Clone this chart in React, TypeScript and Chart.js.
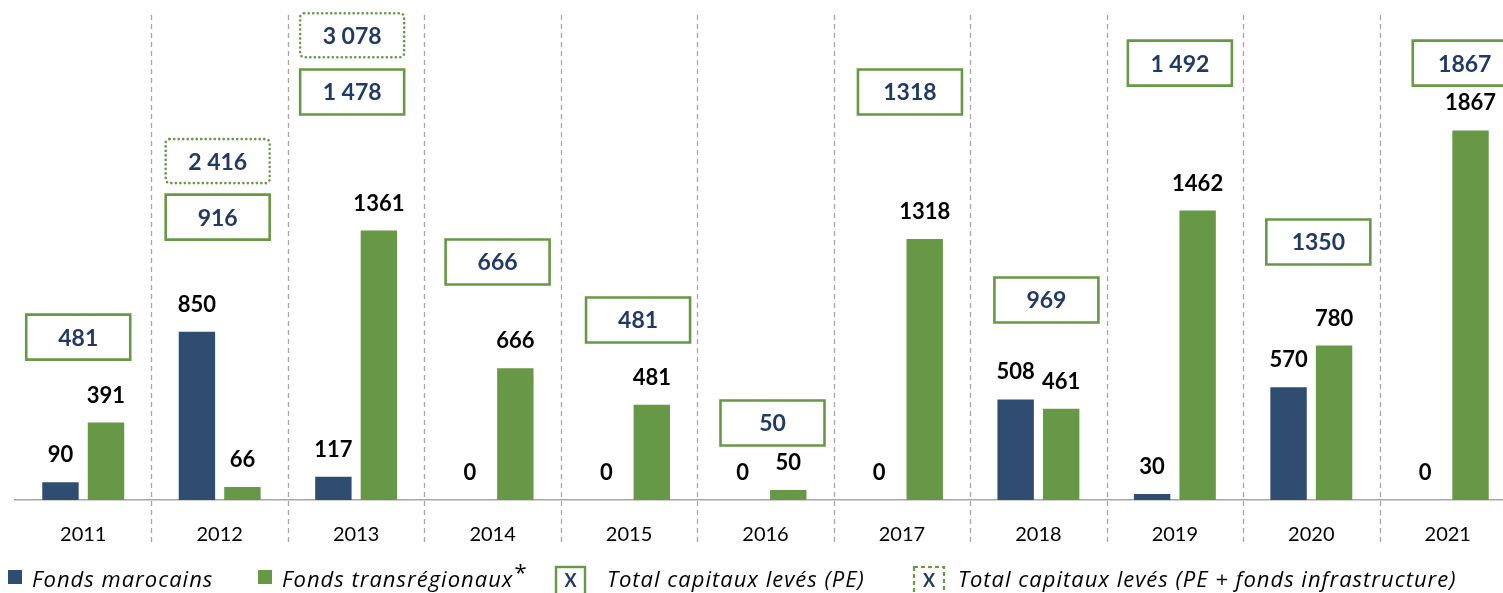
import React, { useEffect, useRef } from 'react';
import { Chart, registerables } from 'chart.js';

Chart.register(...registerables);

// ---------- data ----------
const categories = ['2011', '2012', '2013', '2014', '2015', '2016', '2017', '2018', '2019', '2020', '2021'];
const fondsMarocains = [90, 850, 117, 0, 0, 0, 0, 508, 30, 570, 0];
const fondsTransregionaux = [391, 66, 1361, 666, 481, 50, 1318, 461, 1462, 780, 1867];
const totalPE = ['481', '916', '1 478', '666', '481', '50', '1318', '969', '1 492', '1350', '1867'];
const totalPEInfra = [null, '2 416', '3 078', null, null, null, null, null, null, null, null];

const legendLabels = [
  'Fonds marocains',
  'Fonds transrégionaux',
  'Total capitaux levés (PE)',
  'Total capitaux levés (PE + fonds infrastructure)',
];

// ---------- layout of the total call-out boxes (height in value units, x shift in px) ----------
const totalPEAnchor = [823, 1429, 2061, 1202, 909, 389, 2061, 1010, 2207, 1303, 2207];
const totalInfraAnchor = [null, 1712, 2348, null, null, null, null, null, null, null, null];
const boxShiftX = [-5, -2, -4, 5, 9, 7, 8, 8, 5, 7, 17];

const NAVY = '#2F4C71';
const GREEN = '#679845';
const TEXT_NAVY = '#203A65';
const GRID = '#A6A6A6';
const FONT = 'Lato, "Open Sans", sans-serif';
const LEGEND_FONT = '"Open Sans", Lato, sans-serif';

function roundRect(ctx: CanvasRenderingContext2D, x: number, y: number, w: number, h: number, r: number) {
  ctx.beginPath();
  ctx.moveTo(x + r, y);
  ctx.lineTo(x + w - r, y);
  ctx.arcTo(x + w, y, x + w, y + r, r);
  ctx.lineTo(x + w, y + h - r);
  ctx.arcTo(x + w, y + h, x + w - r, y + h, r);
  ctx.lineTo(x + r, y + h);
  ctx.arcTo(x, y + h, x, y + h - r, r);
  ctx.lineTo(x, y + r);
  ctx.arcTo(x, y, x + r, y, r);
  ctx.closePath();
}

function drawBox(ctx: CanvasRenderingContext2D, cx: number, cy: number, w: number, h: number, text: string, dotted: boolean, fontSize: number) {
  ctx.save();
  ctx.fillStyle = '#ffffff';
  ctx.strokeStyle = GREEN;
  if (dotted) {
    ctx.lineWidth = 2.6;
    ctx.lineCap = 'round';
    ctx.setLineDash([0.1, 4.4]);
    roundRect(ctx, cx - w / 2, cy - h / 2, w, h, 4);
  } else {
    ctx.lineWidth = 2.6;
    ctx.setLineDash([]);
    ctx.beginPath();
    ctx.rect(cx - w / 2, cy - h / 2, w, h);
  }
  ctx.fill();
  ctx.stroke();
  ctx.setLineDash([]);
  ctx.fillStyle = TEXT_NAVY;
  ctx.font = `bold ${fontSize}px ${FONT}`;
  ctx.textAlign = 'center';
  ctx.textBaseline = 'middle';
  ctx.fillText(text, cx, cy + 1);
  ctx.restore();
}

const separatorsPlugin = {
  id: 'separators',
  beforeDatasetsDraw(chart: any) {
    const { ctx, chartArea, scales } = chart;
    const x = scales.x;
    ctx.save();
    ctx.strokeStyle = GRID;
    ctx.lineWidth = 1.3;
    ctx.setLineDash([5, 4]);
    for (let i = 0; i < categories.length - 1; i++) {
      const px = Math.round((x.getPixelForValue(i) + x.getPixelForValue(i + 1)) / 2) + 0.5;
      ctx.beginPath();
      ctx.moveTo(px, chartArea.top);
      ctx.lineTo(px, 546);
      ctx.stroke();
    }
    ctx.restore();
  },
};

const annotationsPlugin = {
  id: 'annotations',
  afterDatasetsDraw(chart: any) {
    const { ctx, scales } = chart;
    const x = scales.x;
    const y = scales.y;
    ctx.save();
    // value labels
    ctx.font = `bold 22px ${FONT}`;
    ctx.fillStyle = '#000000';
    ctx.textAlign = 'center';
    ctx.textBaseline = 'alphabetic';
    chart.data.datasets.forEach((ds: any, di: number) => {
      const meta = chart.getDatasetMeta(di);
      meta.data.forEach((el: any, i: number) => {
        ctx.fillText(String(ds.data[i]), el.x, el.y - 20);
      });
    });
    // total boxes
    categories.forEach((_, i) => {
      const cx = x.getPixelForValue(i) + boxShiftX[i];
      drawBox(ctx, cx, y.getPixelForValue(totalPEAnchor[i]), 104, 45, totalPE[i], false, 23);
      const infra = totalPEInfra[i];
      const a = totalInfraAnchor[i];
      if (infra && a !== null) {
        drawBox(ctx, cx, y.getPixelForValue(a), 104, 44, infra, true, 23);
      }
    });
    ctx.restore();
  },
  afterDraw(chart: any) {
    const { ctx } = chart;
    ctx.save();
    const base = 587;
    ctx.textBaseline = 'alphabetic';
    ctx.textAlign = 'left';
    (ctx as any).letterSpacing = '1px';
    // item 1
    ctx.fillStyle = NAVY;
    ctx.fillRect(8, 570, 14, 14);
    ctx.fillStyle = '#000000';
    ctx.font = `italic 22px ${LEGEND_FONT}`;
    ctx.fillText(legendLabels[0], 32, base);
    // item 2
    ctx.fillStyle = GREEN;
    ctx.fillRect(258, 570, 14, 14);
    ctx.fillStyle = '#000000';
    ctx.font = `italic 22px ${LEGEND_FONT}`;
    ctx.fillText(legendLabels[1], 282, base);
    const w2 = ctx.measureText(legendLabels[1]).width;
    ctx.font = `22px ${LEGEND_FONT}`;
    ctx.fillText('*', 282 + w2 + 1, base - 7);
    ctx.restore();
    // item 3
    ctx.save();
    ctx.strokeStyle = GREEN;
    ctx.lineWidth = 2.4;
    ctx.strokeRect(556, 567, 29, 28);
    ctx.fillStyle = TEXT_NAVY;
    ctx.font = `bold 18px ${FONT}`;
    ctx.textAlign = 'center';
    ctx.textBaseline = 'alphabetic';
    ctx.fillText('X', 570.5, 587);
    (ctx as any).letterSpacing = '1px';
    ctx.fillStyle = '#000000';
    ctx.textAlign = 'left';
    ctx.font = `italic 22px ${LEGEND_FONT}`;
    ctx.fillText(legendLabels[2], 607, base);
    (ctx as any).letterSpacing = '0px';
    // item 4
    ctx.strokeStyle = GREEN;
    ctx.lineWidth = 2.2;
    ctx.setLineDash([4, 3]);
    ctx.strokeRect(914, 567, 30, 28);
    ctx.setLineDash([]);
    ctx.fillStyle = TEXT_NAVY;
    ctx.font = `bold 18px ${FONT}`;
    ctx.textAlign = 'center';
    ctx.fillText('X', 929, 587);
    (ctx as any).letterSpacing = '1px';
    ctx.fillStyle = '#000000';
    ctx.textAlign = 'left';
    ctx.font = `italic 22px ${LEGEND_FONT}`;
    ctx.fillText(legendLabels[3], 958, base);
    ctx.restore();
  },
};

export default function App() {
  const ref = useRef<HTMLCanvasElement | null>(null);

  useEffect(() => {
    if (!ref.current) return;
    const chart = new Chart(ref.current, {
      type: 'bar',
      data: {
        labels: categories,
        datasets: [
          {
            label: legendLabels[0],
            data: fondsMarocains,
            backgroundColor: NAVY,
            categoryPercentage: 0.667,
            barPercentage: 0.8,
          },
          {
            label: legendLabels[1],
            data: fondsTransregionaux,
            backgroundColor: GREEN,
            categoryPercentage: 0.667,
            barPercentage: 0.8,
          },
        ],
      },
      options: {
        animation: false,
        responsive: false,
        devicePixelRatio: 1,
        layout: { padding: { left: 15, right: 14, top: 15, bottom: 0 } },
        plugins: {
          legend: { display: false },
          tooltip: { enabled: false },
        },
        scales: {
          x: {
            grid: { display: false, drawTicks: false },
            border: { display: true, color: GRID, width: 1.5 },
            ticks: {
              color: '#000000',
              font: { family: FONT, size: 20 },
              padding: 23,
              maxRotation: 0,
            },
            afterFit: (scale: any) => {
              scale.height = 93;
            },
          },
          y: {
            display: false,
            min: 0,
            max: 2450,
          },
        },
      },
      plugins: [separatorsPlugin, annotationsPlugin],
    });
    return () => chart.destroy();
  }, []);

  return (
    <div style={{ position: 'absolute', left: 0, top: 0, width: 1503, height: 593, overflow: 'hidden', background: '#ffffff' }}>
      <canvas ref={ref} width={1530} height={593} style={{ display: 'block', width: 1530, height: 593 }} />
    </div>
  );
}
